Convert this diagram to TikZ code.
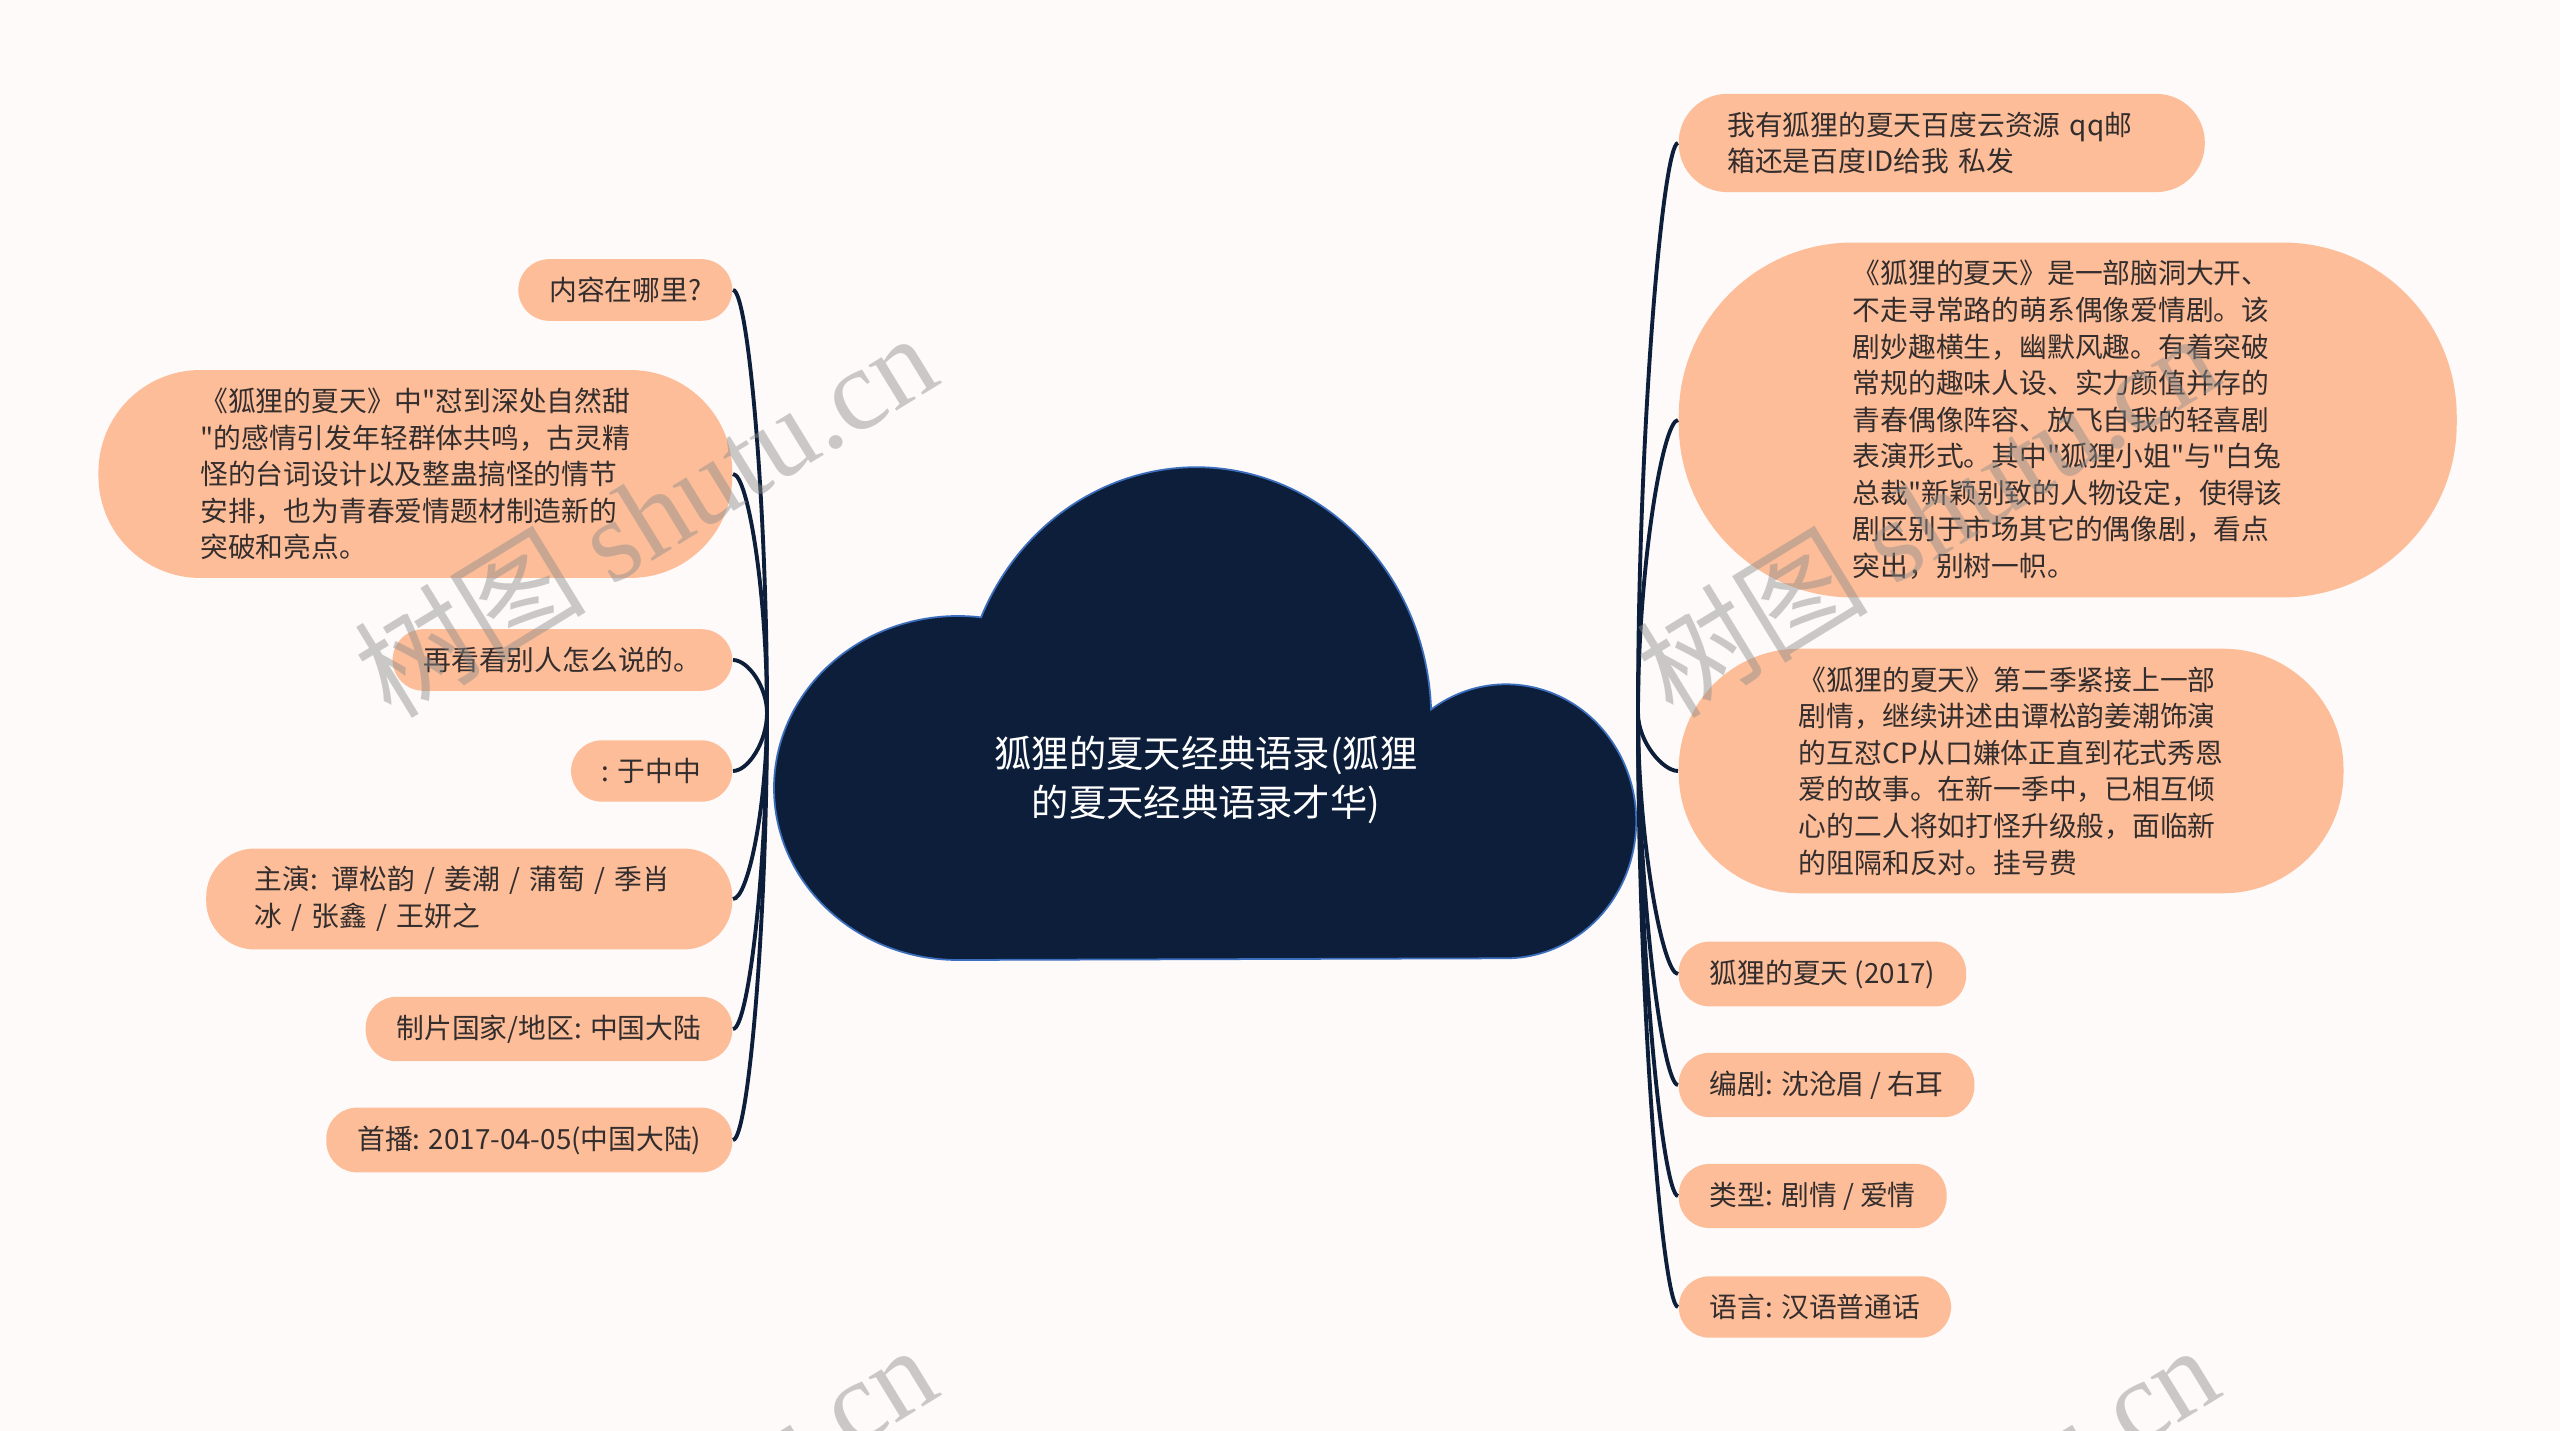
\documentclass[tikz,border=0pt]{standalone}
\usepackage{fontspec}
\setmainfont{Noto Sans CJK SC}[Ligatures=TeXOff]
\newfontfamily\wmfont{Liberation Serif}
\definecolor{paper}{RGB}{253,250,249}
\definecolor{peach}{RGB}{252,189,152}
\definecolor{navy}{RGB}{12,30,58}
\definecolor{rim}{RGB}{60,110,190}
\definecolor{ink}{RGB}{51,45,45}
\begin{document}
\begin{tikzpicture}[x=0.01cm, y=-0.01cm,
  leaf/.style={rectangle, fill=peach, text=ink, align=left, inner ysep=5.1pt, font=\fontsize{7.9pt}{10.4pt}\selectfont},
  leafL/.style={leaf, anchor=east, rounded corners=#1, inner xsep=#1},
  leafL/.default=8.8pt,
  leafR/.style={leaf, anchor=west, rounded corners=#1, inner xsep=#1},
  leafR/.default=8.8pt,
  link/.style={navy, line width=1.1pt},
  title/.style={text=white, align=center, font=\fontsize{10.6pt}{13.9pt}\selectfont},
  wmark/.style={text=black!45, opacity=0.45, rotate=31.5, font=\fontsize{33pt}{33pt}\selectfont}]
\useasboundingbox (0,0) rectangle (2560,1431);
\clip (0,0) rectangle (2560,1431);
\fill[paper] (0,0) rectangle (2560,1431);
% cloud
\filldraw[fill=navy, draw=rim, line width=0.5pt] (958,960)
  arc[start angle=90, end angle=277.2, x radius=184, y radius=172]
  arc[start angle=203.7, end angle=358, x radius=235, y radius=251]
  arc[start angle=234.7, end angle=450, x radius=130, y radius=137] -- cycle;
\node[title] (title) at (1206,780) {狐狸的夏天经典语录(狐狸\\的夏天经典语录才华)};
\coordinate (hubL) at (767,713);
\coordinate (hubR) at (1638,713);
% left side
\node[leafL] (l1) at (733,290) {内容在哪里?};
\node[leafL=29pt] (l2) at (733,474) {《狐狸的夏天》中"怼到深处自然甜\\"的感情引发年轻群体共鸣，古灵精\\怪的台词设计以及整蛊搞怪的情节\\安排，也为青春爱情题材制造新的\\突破和亮点。};
\node[leafL] (l3) at (733,660) {再看看别人怎么说的。};
\node[leafL] (l4) at (733,771) {: 于中中};
\node[leafL=13.8pt, text width=122pt] (l5) at (733,899) {主演: 谭松韵 / 姜潮 / 蒲萄 / 季肖\\冰 / 张鑫 / 王妍之};
\node[leafL] (l6) at (733,1029) {制片国家/地区: 中国大陆};
\node[leafL] (l7) at (733,1140) {首播: 2017-04-05(中国大陆)};
% right side
\node[leafR=13.8pt, text width=122pt] (r1) at (1678,143) {我有狐狸的夏天百度云资源 qq邮\\箱还是百度ID给我 私发};
\node[leafR=49.5pt] (r2) at (1678,420) {《狐狸的夏天》是一部脑洞大开、\\不走寻常路的萌系偶像爱情剧。该\\剧妙趣横生，幽默风趣。有着突破\\常规的趣味人设、实力颜值并存的\\青春偶像阵容、放飞自我的轻喜剧\\表演形式。其中"狐狸小姐"与"白兔\\总裁"新颖别致的人物设定，使得该\\剧区别于市场其它的偶像剧，看点\\突出，别树一帜。};
\node[leafR=34.2pt] (r3) at (1678,771) {《狐狸的夏天》第二季紧接上一部\\剧情，继续讲述由谭松韵姜潮饰演\\的互怼CP从口嫌体正直到花式秀恩\\爱的故事。在新一季中，已相互倾\\心的二人将如打怪升级般，面临新\\的阻隔和反对。挂号费};
\node[leafR] (r4) at (1678,974) {狐狸的夏天 (2017)};
\node[leafR] (r5) at (1678,1085) {编剧: 沈沧眉 / 右耳};
\node[leafR] (r6) at (1678,1196) {类型: 剧情 / 爱情};
\node[leafR] (r7) at (1678,1307) {语言: 汉语普通话};
% links
\foreach \n/\d in {l1/-211, l2/-120, l3/-26, l4/29, l5/93, l6/158, l7/213}
  \draw[link] (hubL) .. controls +(0,\d) and +(15,0) .. (\n.east);
\foreach \n/\d in {r1/-285, r2/-146, r3/29, r4/130, r5/186, r6/241, r7/297}
  \draw[link] (hubR) .. controls +(0,\d) and +(-15,0) .. (\n.west);
% watermark
\foreach \p [count=\i] in {(645,514),(1927,514),(645,1526),(1927,1526)}
  \node[wmark] (wm\i) at \p {树图 {\wmfont shutu.cn}};
\end{tikzpicture}
\end{document}
